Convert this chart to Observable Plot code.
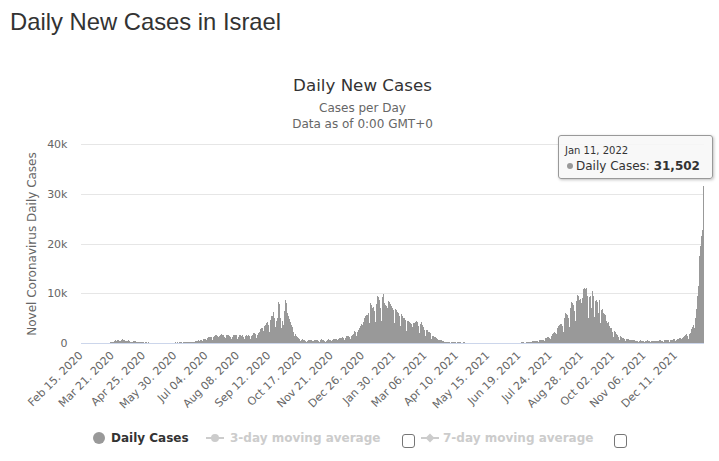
<!DOCTYPE html>
<html>
<head>
<meta charset="utf-8">
<script src="https://cdn.jsdelivr.net/npm/d3@7"></script>
<script src="https://cdn.jsdelivr.net/npm/@observablehq/plot@0.6"></script>
<style>
  html, body { margin: 0; padding: 0; background: #fff; }
  #page { position: relative; width: 719px; height: 461px; overflow: hidden; font-family: "DejaVu Sans", Verdana, sans-serif; }
  #page > svg { position: absolute; left: 0; top: 0; }
  .abs { position: absolute; white-space: nowrap; line-height: 1; }
  #page-title { left: 10px; top: 10px; font-family: "Liberation Sans", Arial, sans-serif; font-size: 23.8px; color: #333; }
  .center { left: 0; width: 725px; text-align: center; }
  #chart-title { top: 77px; font-size: 16.7px; color: #333; }
  #chart-sub1 { top: 102px; font-size: 12px; color: #666; }
  #chart-sub2 { top: 118px; font-size: 12px; color: #666; }
  .legend-text { font-size: 12px; font-weight: bold; top: 432px; }
  .legend-dot { position: absolute; width: 12px; height: 12px; border-radius: 50%; background: #999; }
  .checkbox { position: absolute; width: 11px; height: 12px; border: 1px solid #767676; border-radius: 3px; background: #fff; }
  #tooltip { position: absolute; width: 155px; height: 44px; box-sizing: border-box; border: 1px solid #999; border-radius: 3px;
             background: rgba(247,247,247,0.85); box-shadow: 1px 1px 3px rgba(0,0,0,0.25); color: #333; }
  #tooltip .abs { color: #333; }
</style>
</head>
<body>
<div id="page">
  <div id="page-title" class="abs">Daily New Cases in Israel</div>
  <div id="chart-title" class="abs center">Daily New Cases</div>
  <div id="chart-sub1" class="abs center">Cases per Day</div>
  <div id="chart-sub2" class="abs center">Data as of 0:00 GMT+0</div>
</div>
<script>
// Daily new cases, one array per month, starting Feb 15, 2020.
const feb2020 = [0,0,0,0,0,0,1,0,0,0,0,0,0,0,0];
const mar2020 = [0,2,3,2,5,4,2,6,11,7,14,24,30,45,50,56,72,96,134,110,177,268,320,530,480,550,580,390,460,500,680];
const apr2020 = [730,560,550,420,360,440,400,540,380,260,250,200,390,430,320,270,250,210,200,150,110,130,170,140,90,60,115,150,90,110];
const may2020 = [45,60,40,25,17,16,20,40,32,20,13,15,30,25,22,14,25,30,30,17,16,15,17,12,30,50,80,100,80,115,60];
const jun2020 = [120,110,100,140,150,120,95,180,170,130,190,210,170,110,220,230,260,280,300,200,180,320,380,360,560,440,580,520,480,700];
const jul2020 = [800,900,750,550,1000,1200,1250,1300,1150,800,650,1300,1450,1550,1600,1500,1200,900,1500,1650,1750,1700,1600,1300,1000,1550,1700,1650,1550,1450,1200];
const aug2020 = [800,1300,1650,1700,1600,1550,1300,750,1200,1650,1700,1500,1550,1300,800,1100,1500,1650,1500,1600,1350,750,1350,1700,1850,1950,2000,1800,1100,1600,2100];
const sep2020 = [2200,2800,3100,3000,1900,2500,3500,3600,4000,4200,3600,2300,3200,4700,5400,5500,6200,5000,3200,4500,5000,6900,8200,7800,5000,3000,4500,3700,6500,8700];
const oct2020 = [8000,6000,2800,5500,4900,4300,3700,3200,2300,1400,1800,1700,1500,1300,1100,900,450,700,750,650,600,550,500,300,450,600,650,600,550,450,280];
const nov2020 = [500,650,700,680,600,500,300,550,700,720,650,580,450,250,500,700,750,700,650,600,350,600,750,850,900,850,700,450,800,1000];
const dec2020 = [1000,1100,1150,1100,650,1000,1300,1400,1500,1500,1300,800,1400,1700,1800,2000,2400,2300,1500,2300,2700,3000,3500,3800,3700,2700,4200,5000,5400,5600,5700];
const jan2021 = [6000,4000,8000,7700,7400,7000,7300,6500,4300,7800,9400,9200,8600,8000,7000,4500,9300,9800,8000,7700,7500,7000,4600,8400,8200,7800,7500,7000,6600,4000,6800];
const feb2021 = [6700,6500,6200,6000,5500,3400,5800,5400,5000,5000,4700,3700,2400,4400,4400,4200,4000,3900,3300,2200,4100,4000,4300,4400,4200,3500,2000,3800];
const mar2021 = [4300,3700,3500,3300,2600,1500,2600,2700,2300,2200,2000,1600,900,1500,1400,1300,1200,1000,800,450,700,650,600,550,450,350,200,300,300,250,200];
const apr2021 = [230,180,100,190,210,200,170,150,120,70,130,150,120,110,90,60,40,110,100,90,70,60,50,30,70,80,70,60,40,20];
const may2021 = [30,40,35,30,25,20,15,10,20,25,20,15,10,8,5,12,15,10,8,10,5,3,8,12,10,8,5,4,3,6,10];
const jun2021 = [5,8,6,4,3,2,4,8,10,5,3,2,4,10,12,8,6,4,10,40,125,110,110,70,50,65,110,200,290,300];
const jul2021 = [300,250,150,350,370,400,450,430,350,250,500,600,650,700,650,550,450,1000,1100,1200,1100,1150,1100,800,1500,1900,2100,2200,2000,1800,1400];
const aug2021 = [3000,3500,3700,3800,3900,3400,2300,5000,5800,6000,5900,5600,5000,3200,7000,8300,8000,7700,7500,6500,4500,8500,9700,9500,8700,8800,8000,5500,9000,10800,11000];
const sep2021 = [10900,11000,9500,5000,9200,9400,6000,7000,10400,9500,5200,8500,8600,8200,6000,5500,8700,4000,6700,6800,6000,5800,5700,4500,2800,4000,4200,3500,3000,3000];
const oct2021 = [2300,1300,2400,2200,2100,1900,1700,1300,700,1400,1300,1100,1000,900,800,450,900,800,750,700,650,550,300,600,550,550,500,500,400,250,500];
const nov2021 = [500,520,480,450,380,220,480,500,520,480,450,380,200,450,470,500,480,460,400,220,470,500,520,540,500,420,250,520,560,600];
const dec2021 = [620,650,550,300,600,650,700,750,800,650,400,700,800,900,950,1000,900,550,1000,1300,1400,1700,1800,1500,900,1800,2100,2500,2900,3300,3600];
const jan2022 = [3000,5000,6800,9500,11500,14500,17500,19500,21500,22800,31502];

const firstDay = "2020-02-15";
const xTickDays = ["2020-02-15","2020-03-21","2020-04-25","2020-05-30","2020-07-04","2020-08-08","2020-09-12",
  "2020-10-17","2020-11-21","2020-12-26","2021-01-30","2021-03-06","2021-04-10","2021-05-15","2021-06-19",
  "2021-07-24","2021-08-28","2021-10-02","2021-11-06","2021-12-11"];
const yTicks = [0, 10000, 20000, 30000, 40000];

const dailyCases = [].concat(feb2020, mar2020, apr2020, may2020, jun2020, jul2020, aug2020, sep2020, oct2020,
  nov2020, dec2020, jan2021, feb2021, mar2021, apr2021, may2021, jun2021, jul2021, aug2021, sep2021, oct2021,
  nov2021, dec2021, jan2022);

const parseDay = d3.utcParse("%Y-%m-%d");
const start = parseDay(firstDay);
const dates = d3.utcDay.range(start, d3.utcDay.offset(start, dailyCases.length));
const rows = dates.map((date, i) => ({date, cases: dailyCases[i]}));
const xTickDates = xTickDays.map(parseDay);

const chart = Plot.plot({
  width: 719,
  height: 461,
  marginTop: 144,
  marginBottom: 118,
  marginLeft: 81,
  marginRight: 15,
  style: {fontFamily: "'DejaVu Sans', Verdana, sans-serif", fontSize: "11px", background: "transparent", overflow: "visible"},
  x: {type: "band", domain: dates, padding: 0},
  y: {domain: [0, 40000]},
  marks: [
    Plot.gridY(yTicks, {stroke: "#e6e6e6", strokeOpacity: 1, shapeRendering: "crispEdges"}),
    Plot.barY(rows, {x: "date", y: "cases", fill: "#999", insetLeft: -0.06, insetRight: -0.06, shapeRendering: "crispEdges"}),
    Plot.ruleY([0], {stroke: "#ccd6eb", shapeRendering: "crispEdges"}),
    Plot.axisY(yTicks, {tickSize: 0, tickPadding: 14, fontSize: 11, fill: "#666", label: null,
      tickFormat: d => d === 0 ? "0" : `${d / 1000}k`}),
    Plot.axisX(xTickDates, {tickSize: 0, tickPadding: 10, tickRotate: -45, fontSize: 11, fill: "#666", label: null,
      dx: -1, tickFormat: d3.utcFormat("%b %d. %Y")}),
    Plot.text(["Novel Coronavirus Daily Cases"], {frameAnchor: "left", rotate: -90, dx: -49, textAnchor: "middle",
      lineAnchor: "middle", fontSize: 12, fill: "#666"})
  ]
});

const page = document.getElementById("page");
page.prepend(chart);

// Legend below the chart
function add(html) { page.insertAdjacentHTML("beforeend", html); }
add(`<div class="legend-dot" style="left:93px;top:432px"></div>`);
add(`<div class="abs legend-text" style="left:111px;color:#333">Daily Cases</div>`);
add(`<svg style="position:absolute;left:206px;top:432px" width="18" height="12"><line x1="0" x2="18" y1="6" y2="6" stroke="#ccc" stroke-width="2"/><circle cx="9" cy="6" r="4" fill="#ccc"/></svg>`);
add(`<div class="abs legend-text" style="left:230px;color:#ccc">3-day moving average</div>`);
add(`<div class="checkbox" style="left:402px;top:434px"></div>`);
add(`<svg style="position:absolute;left:421px;top:432px" width="18" height="12"><line x1="0" x2="18" y1="6" y2="6" stroke="#ccc" stroke-width="2"/><path d="M9,1.5L13.5,6L9,10.5L4.5,6Z" fill="#ccc"/></svg>`);
add(`<div class="abs legend-text" style="left:443px;color:#ccc">7-day moving average</div>`);
add(`<div class="checkbox" style="left:614px;top:434px"></div>`);

// Tooltip for the latest day, placed from the chart's own scales
const last = rows[rows.length - 1];
const xs = chart.scale("x"), ys = chart.scale("y");
const px = xs.apply(last.date) + xs.bandwidth / 2;
const py = ys.apply(last.cases);
add(`<div id="tooltip" style="left:${Math.round(px - 146)}px;top:${Math.round(py - 51)}px">
  <div class="abs" style="left:6px;top:10px;font-size:10px">${d3.utcFormat("%b %d, %Y")(last.date)}</div>
  <div style="position:absolute;left:8px;top:27px;width:6px;height:6px;border-radius:50%;background:#999"></div>
  <div class="abs" style="left:17px;top:24px;font-size:12px">Daily Cases: <b>${d3.format(",")(last.cases)}</b></div>
</div>`);
</script>
</body>
</html>
